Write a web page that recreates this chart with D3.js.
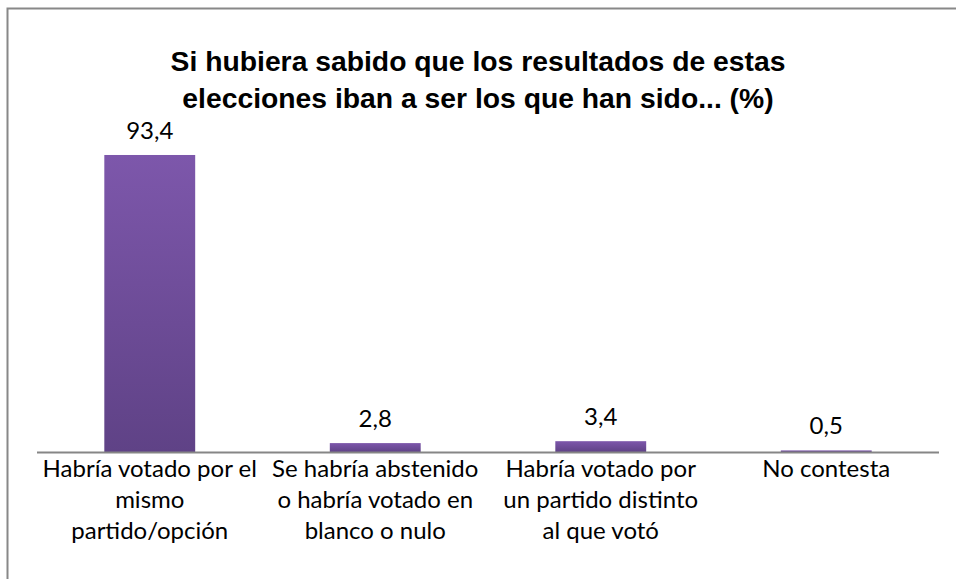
<!DOCTYPE html>
<html><head><meta charset="utf-8">
<script src="https://cdn.jsdelivr.net/npm/d3@7"></script>
<style>body{margin:0;background:#fff}</style>
</head><body>
<svg id="c" width="956" height="579"></svg>
<script>
const titleLines = ["Si hubiera sabido que los resultados de estas", "elecciones iban a ser los que han sido... (%)"];
const categories = ["Habría votado por el|mismo|partido/opción", "Se habría abstenido|o habría votado en|blanco o nulo", "Habría votado por|un partido distinto|al que votó", "No contesta"];
const values = [93.4, 2.8, 3.4, 0.5];
const valueLabels = ["93,4", "2,8", "3,4", "0,5"];

const svg = d3.select("#c");
const defs = svg.append("defs");
const g = defs.append("linearGradient").attr("id","bg").attr("x1",0).attr("y1",0).attr("x2",0).attr("y2",1);
g.append("stop").attr("offset","0%").attr("stop-color","#7d57ab");
g.append("stop").attr("offset","100%").attr("stop-color","#5f4286");

// frame
svg.append("path").attr("d","M7.5,579 V8.5 H956").attr("fill","none").attr("stroke","#888").attr("stroke-width",2);

svg.append("g").selectAll("text").data(titleLines).join("text")
  .attr("x",478).attr("y",(d,i)=>71+i*37).attr("text-anchor","middle")
  .style("font-family","'Liberation Sans',Arial,sans-serif")
  .style("font-weight","bold").style("font-size","28.3px").attr("fill","#000").text(d=>d);

const x = d3.scaleBand().domain(categories).range([37,939]).paddingInner(0.597).paddingOuter(0.2985);
const y = d3.scaleLinear().domain([0,100]).range([452,134]);

svg.append("g").selectAll("rect").data(values).join("rect")
  .attr("x",(d,i)=>x(categories[i])).attr("width",x.bandwidth())
  .attr("y",d=>y(d)).attr("height",d=>y(0)-y(d)).attr("fill","url(#bg)");

svg.append("line").attr("x1",37).attr("x2",939).attr("y1",452.5).attr("y2",452.5).attr("stroke","#868686").attr("stroke-width",2);

const lf = "Lato,'Open Sans',sans-serif";
svg.append("g").selectAll("text").data(values).join("text")
  .attr("x",(d,i)=>x(categories[i])+x.bandwidth()/2).attr("y",d=>y(d)-16)
  .attr("text-anchor","middle").style("font-family",lf).style("font-size","24px").attr("fill","#000")
  .text((d,i)=>valueLabels[i]);

const lab = svg.append("g").selectAll("text").data(categories).join("text")
  .attr("text-anchor","middle").style("font-family",lf).style("font-size","24px").attr("fill","#000");
lab.each(function(c){
  const t=d3.select(this);
  c.split("|").forEach((s,j)=>t.append("tspan").attr("x",x(c)+x.bandwidth()/2).attr("y",477+j*31).text(s));
});
</script>
</body></html>
